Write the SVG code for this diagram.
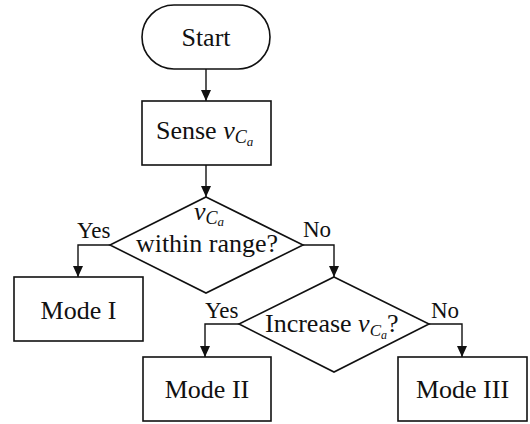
<svg xmlns="http://www.w3.org/2000/svg" width="530" height="424" viewBox="0 0 530 424">
  <defs>
    <marker id="arrow" viewBox="0 0 11 10" refX="11" refY="5" markerWidth="11" markerHeight="10" markerUnits="userSpaceOnUse" orient="auto">
      <path d="M0,0 L11,5 L0,10 z" fill="#111"/>
    </marker>
    <style>
      .shape { fill: #fff; stroke: #111; stroke-width: 1.6; }
      .link { fill: none; stroke: #111; stroke-width: 1.4; marker-end: url(#arrow); }
      text { font-family: 'Liberation Serif', 'DejaVu Serif', serif; fill: #111; }
      .t { font-size: 26px; }
      .lbl { font-size: 23px; }
      .m { font-style: italic; }
    </style>
  </defs>
  <rect width="530" height="424" fill="#fff"/>

  <g id="connectors">
    <path class="link" d="M206,69 V101"/>
    <path class="link" d="M206,165 V197"/>
    <path class="link" d="M110,245 H78 V277"/>
    <path class="link" d="M303,245 H334 V277"/>
    <path class="link" d="M239,324 H205 V357"/>
    <path class="link" d="M429,324 H462 V357"/>
  </g>

  <g id="start">
    <rect class="shape" x="142" y="5" width="128" height="64" rx="32" ry="32"/>
    <text class="t" x="206" y="46" text-anchor="middle">Start</text>
  </g>

  <g id="sense">
    <rect class="shape" x="142" y="101" width="129" height="64"/>
    <text class="t" x="156" y="139">Sense <tspan class="m">v</tspan><tspan class="m" font-size="18" dy="4">C</tspan><tspan class="m" font-size="13" dy="3">a</tspan></text>
  </g>

  <g id="in-range">
    <polygon class="shape" points="206,197 303,245 206,293 110,245"/>
    <text class="t" x="209" y="220" text-anchor="middle"><tspan class="m">v</tspan><tspan class="m" font-size="18" dy="4">C</tspan><tspan class="m" font-size="13" dy="2">a</tspan></text>
    <text class="t" x="207" y="252" text-anchor="middle" font-size="27.5">within range?</text>
    <text class="lbl" x="77" y="238">Yes</text>
    <text class="lbl" x="303" y="237">No</text>
  </g>

  <g id="increase">
    <polygon class="shape" points="334,277 429,324 334,372 239,324"/>
    <text class="t" x="265" y="332" font-size="24.5">Increase <tspan class="m">v</tspan><tspan class="m" font-size="17" dy="4">C</tspan><tspan class="m" font-size="12" dy="3">a</tspan><tspan dy="-7">?</tspan></text>
    <text class="lbl" x="205" y="318">Yes</text>
    <text class="lbl" x="431" y="318">No</text>
  </g>

  <g id="mode1">
    <rect class="shape" x="14" y="277" width="129" height="64"/>
    <text class="t" x="78.5" y="319" text-anchor="middle">Mode I</text>
  </g>

  <g id="mode2">
    <rect class="shape" x="143" y="357" width="128" height="64"/>
    <text class="t" x="207" y="398" text-anchor="middle">Mode II</text>
  </g>

  <g id="mode3">
    <rect class="shape" x="398" y="357" width="129" height="64"/>
    <text class="t" x="462.5" y="398" text-anchor="middle">Mode III</text>
  </g>
</svg>
